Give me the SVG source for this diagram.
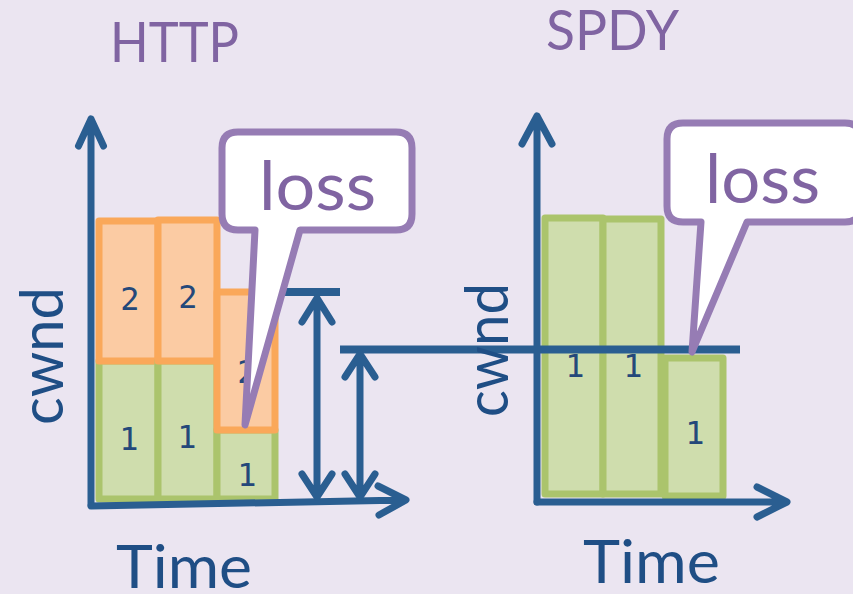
<svg xmlns="http://www.w3.org/2000/svg" width="853" height="594" viewBox="0 0 853 594">
  <style>
    .title { font-family: Lato, "Liberation Sans", sans-serif; fill: #8064A2; font-size: 56px; }
    .axislabel { font-family: Lato, "Liberation Sans", sans-serif; fill: #1F4E85; font-size: 60px; }
    .digit { font-family: "DejaVu Sans Mono", "Liberation Mono", monospace; fill: #24487A; font-size: 32px; text-anchor: middle; }
    .loss { font-family: Lato, "Liberation Sans", sans-serif; fill: #8064A2; font-size: 68px; }
    .axis { stroke: #2A5E91; stroke-width: 7; fill: none; stroke-linecap: round; stroke-linejoin: round; }
    .mark { stroke: #2A5E91; stroke-width: 8; fill: none; }
    .green { fill: #CFDDAD; stroke: #ABC46C; stroke-width: 7; stroke-linejoin: round; }
    .orange { fill: #FBCBA3; stroke: #FAA85A; stroke-width: 7; stroke-linejoin: round; }
    .callout { fill: #FFFFFF; stroke: #967CB4; stroke-width: 7; stroke-linejoin: round; }
  </style>

  <rect width="853" height="594" fill="#EBE5F1"/>

  <!-- titles -->
  <text id="title-http" class="title" x="110" y="62" textLength="129" lengthAdjust="spacingAndGlyphs">HTTP</text>
  <text id="title-spdy" class="title" x="546" y="50" textLength="133" lengthAdjust="spacingAndGlyphs">SPDY</text>

  <!-- HTTP chart bars -->
  <g id="http-bar1">
    <rect class="green" x="99" y="361" width="59" height="138"/>
    <rect class="orange" x="99" y="221" width="59" height="140"/>
    <text class="digit" x="130" y="310">2</text>
    <text class="digit" x="129" y="450">1</text>
  </g>
  <g id="http-bar2">
    <rect class="green" x="158" y="361" width="59" height="138"/>
    <rect class="orange" x="158" y="220" width="59" height="141"/>
    <text class="digit" x="188" y="308">2</text>
    <text class="digit" x="187" y="448">1</text>
  </g>
  <g id="http-bar3">
    <rect class="green" x="217" y="430" width="58" height="69"/>
    <rect class="orange" x="217" y="292" width="58" height="138"/>
    <text class="digit" x="247" y="383">2</text>
    <text class="digit" x="247" y="486">1</text>
  </g>

  <!-- SPDY chart bars -->
  <g id="spdy-bar1">
    <rect class="green" x="545" y="218" width="58" height="276"/>
    <text class="digit" x="575" y="377">1</text>
  </g>
  <g id="spdy-bar2">
    <rect class="green" x="603" y="219" width="58" height="275"/>
    <text class="digit" x="633" y="377">1</text>
  </g>
  <g id="spdy-bar3">
    <rect class="green" x="665" y="358" width="58" height="138"/>
    <text class="digit" x="695" y="444">1</text>
  </g>

  <!-- axes, window levels and measurement arrows -->
  <g id="connectors">
    <!-- HTTP axes -->
    <path class="axis" d="M91,505 V119 M78.5,146 L91,119 L103.5,146"/>
    <path class="axis" d="M91,506 L405,500 M378,486 L406,500 L379,515"/>
    <!-- SPDY axes -->
    <path class="axis" d="M537,502 V116 M522,144 L537,116 L552,144"/>
    <path class="axis" d="M537,502 H786 M757,487 L787,502 L757,517"/>
    <!-- window levels -->
    <path class="mark" d="M274,292 H340"/>
    <path class="mark" stroke-width="7" d="M340,349.5 H740"/>
    <!-- double-headed arrows -->
    <path class="axis" d="M317,299 V495 M302,322 L317,298 L332,322 M302,474 L317,497 L332,474"/>
    <path class="axis" d="M360,356 V495 M345,377 L360,354 L375,377 M345,474 L360,497 L375,474"/>
  </g>

  <!-- loss callouts -->
  <g id="callout-http">
    <path class="callout" d="M238,132 H396 Q412,132 412,148 V214 Q412,230 396,230 H300 L245,425 L255,230 H238 Q222,230 222,214 V148 Q222,132 238,132 Z"/>
    <text class="loss" x="259" y="210" textLength="117" lengthAdjust="spacingAndGlyphs">loss</text>
  </g>
  <g id="callout-spdy">
    <path class="callout" d="M683,123 H845 Q861,123 861,139 V206 Q861,222 845,222 H747 L692,352 L701,222 H683 Q667,222 667,206 V139 Q667,123 683,123 Z"/>
    <text class="loss" x="705" y="203" textLength="115" lengthAdjust="spacingAndGlyphs">loss</text>
  </g>

  <!-- axis labels -->
  <text id="cwnd-http" class="axislabel" text-anchor="middle" transform="translate(63,356) rotate(-90)" textLength="138" lengthAdjust="spacingAndGlyphs">cwnd</text>
  <text id="cwnd-spdy" class="axislabel" text-anchor="middle" transform="translate(508,350) rotate(-90)" textLength="134" lengthAdjust="spacingAndGlyphs">cwnd</text>
  <text id="time-http" class="axislabel" x="116" y="588" textLength="136" lengthAdjust="spacingAndGlyphs">Time</text>
  <text id="time-spdy" class="axislabel" x="583" y="583" textLength="137" lengthAdjust="spacingAndGlyphs">Time</text>
</svg>
